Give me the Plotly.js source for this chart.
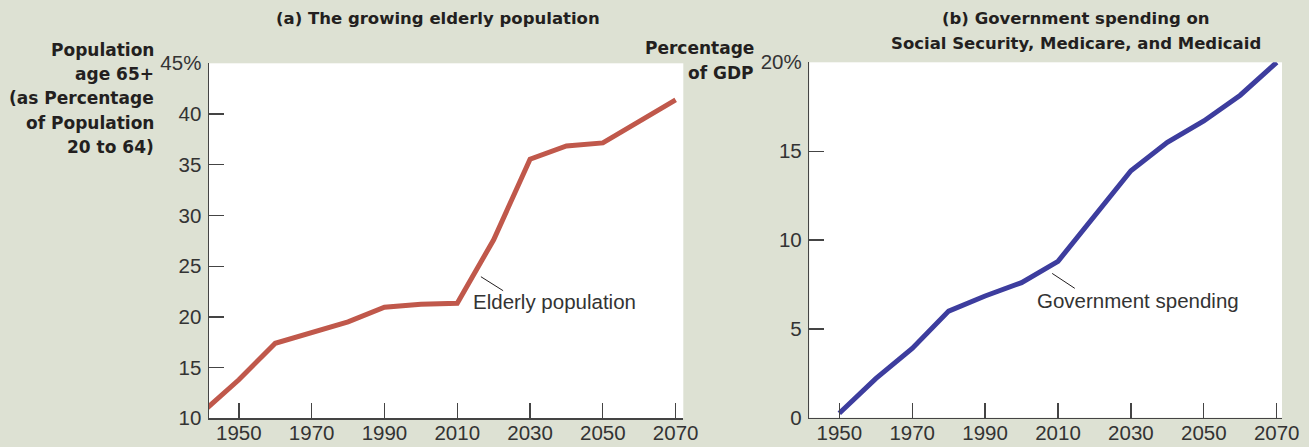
<!DOCTYPE html>
<html><head><meta charset="utf-8">
<script src="https://cdn.plot.ly/plotly-3.0.1.min.js"></script>
<style>html,body{margin:0;padding:0;background:#dde1d3;}</style>
</head><body><div id="chart" style="width:1309px;height:447px;"></div>
<script>
// ---- data ----
const elderlyYears = [1940, 1950, 1960, 1970, 1980, 1990, 2000, 2010, 2020, 2030, 2040, 2050, 2060, 2070];
const elderlyPct   = [10.6, 13.8, 17.4, 18.5, 19.5, 20.95, 21.25, 21.35, 27.6, 35.55, 36.85, 37.15, 39.25, 41.4];
const spendingYears = [1950, 1960, 1970, 1980, 1990, 2000, 2010, 2020, 2030, 2040, 2050, 2060, 2070];
const spendingPct   = [0.25, 2.2, 3.9, 6.0, 6.85, 7.6, 8.8, 11.3, 13.9, 15.5, 16.7, 18.15, 20.0];
const xTickVals = [1950, 1970, 1990, 2010, 2030, 2050, 2070];
const xTickText = ['1950', '1970', '1990', '2010', '2030', '2050', '2070'];
const leftTickVals = [10, 15, 20, 25, 30, 35, 40, 45];
const leftTickText = ['10', '15', '20', '25', '30', '35', '40', '45%'];
const rightTickVals = [0, 5, 10, 15, 20];
const rightTickText = ['0', '5', '10', '15', '20%'];
const titleA = '(a) The growing elderly population';
const titleB = ['(b) Government spending on', 'Social Security, Medicare, and Medicaid'];
const leftAxisTitle = ['Population', 'age 65+', '(as Percentage', 'of Population', '20 to 64)'];
const rightAxisTitle = ['Percentage', 'of GDP'];
const labelA = 'Elderly population';
const labelB = 'Government spending';

// ---- layout helpers ----
const W = 1309, H = 447;
const px = x => x / W;
const py = y => 1 - y / H;
const BG = '#dde1d3';
const AX = '#444444';
const TXT = '#231f20';
const tickFont = {family: 'Liberation Sans, Arial, sans-serif', size: 20.5, color: '#333333'};
const boldFont = {family: 'DejaVu Sans, sans-serif', size: 16.5, color: TXT, weight: 'bold'};
const axTitleFont = {family: 'DejaVu Sans, sans-serif', size: 17, color: TXT, weight: 'bold'};
const labelFont = {family: 'Liberation Sans, Arial, sans-serif', size: 20.5, color: '#333333'};

function axisCommon() {
  return {
    showgrid: false, zeroline: false, showline: true, linecolor: AX, linewidth: 1.5,
    ticks: 'inside', ticklen: 15, tickwidth: 1.3, tickcolor: AX,
    tickfont: tickFont, fixedrange: true
  };
}

const traces = [
  {x: elderlyYears, y: elderlyPct, xaxis: 'x', yaxis: 'y', mode: 'lines',
   line: {color: '#c0584b', width: 5}, hoverinfo: 'skip'},
  {x: spendingYears, y: spendingPct, xaxis: 'x2', yaxis: 'y2', mode: 'lines',
   line: {color: '#3d3d9e', width: 5}, hoverinfo: 'skip'}
];

const annotations = [];
annotations.push({xref: 'paper', yref: 'paper', x: px(438), y: py(19), text: titleA,
  showarrow: false, xanchor: 'center', yanchor: 'middle', font: boldFont});
titleB.forEach((t, i) => annotations.push({xref: 'paper', yref: 'paper', x: px(1076), y: py(18.5 + i * 25),
  text: t, showarrow: false, xanchor: 'center', yanchor: 'middle', font: boldFont}));
leftAxisTitle.forEach((t, i) => annotations.push({xref: 'paper', yref: 'paper', x: px(156), y: py(50 + i * 24.2),
  text: t, showarrow: false, xanchor: 'right', yanchor: 'middle', font: axTitleFont}));
rightAxisTitle.forEach((t, i) => annotations.push({xref: 'paper', yref: 'paper', x: px(756), y: py(48 + i * 25),
  text: t, showarrow: false, xanchor: 'right', yanchor: 'middle', font: axTitleFont}));
annotations.push({xref: 'x', yref: 'y', x: 2013.9, y: 21.5, text: labelA, showarrow: false,
  xanchor: 'left', yanchor: 'middle', font: labelFont});
annotations.push({xref: 'x2', yref: 'y2', x: 2003.6, y: 6.58, text: labelB, showarrow: false,
  xanchor: 'left', yanchor: 'middle', font: labelFont});

const shapes = [
  {type: 'line', xref: 'x', yref: 'y', x0: 2016.5, y0: 23.96, x1: 2022.6, y1: 22.58, line: {color: TXT, width: 1}},
  {type: 'line', xref: 'x2', yref: 'y2', x0: 2008.4, y0: 8.12, x1: 2014.6, y1: 7.28, line: {color: TXT, width: 1}}
];

const layout = {
  width: W, height: H, margin: {l: 0, r: 0, t: 0, b: 0},
  paper_bgcolor: BG, plot_bgcolor: '#ffffff', showlegend: false,
  xaxis: Object.assign(axisCommon(), {domain: [px(209), px(683.3)], range: [1941.8, 2072.1], anchor: 'y',
    tickvals: xTickVals, ticktext: xTickText, ticklabelstandoff: -4}),
  yaxis: Object.assign(axisCommon(), {domain: [py(418.3), py(63.3)], range: [10, 45], anchor: 'x',
    tickvals: leftTickVals, ticktext: leftTickText, ticklabelstandoff: 2}),
  xaxis2: Object.assign(axisCommon(), {domain: [px(809.3), px(1282)], range: [1941.77, 2071.45], anchor: 'y2',
    tickvals: xTickVals, ticktext: xTickText, ticklabelstandoff: -4}),
  yaxis2: Object.assign(axisCommon(), {domain: [py(417.7), py(62.3)], range: [0, 20], anchor: 'x2',
    tickvals: rightTickVals, ticktext: rightTickText, ticklabelstandoff: 2}),
  annotations: annotations, shapes: shapes
};

Plotly.newPlot('chart', traces, layout, {staticPlot: true, displayModeBar: false});
</script></body></html>
